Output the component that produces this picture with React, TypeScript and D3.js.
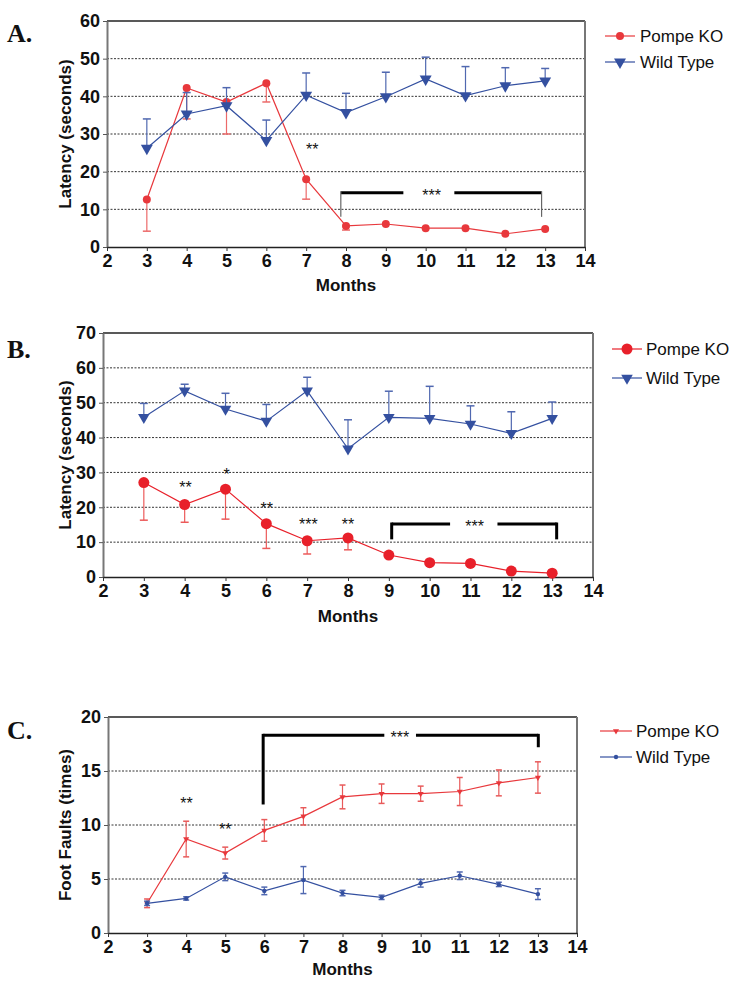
import * as d3 from 'd3';
import React, { useEffect, useRef } from 'react';

// months on the x axis
const months = [3, 4, 5, 6, 7, 8, 9, 10, 11, 12, 13];
const xTicks = [2, 3, 4, 5, 6, 7, 8, 9, 10, 11, 12, 13, 14];

// A. latency (seconds)
const koA = [12.6, 42.2, 38.5, 43.5, 18.0, 5.6, 6.1, 5.0, 5.0, 3.5, 4.8];
const koAErr = [8.4, 8.2, 8.5, 5.0, 5.3, 1.1, 0, 0, 0, 0, 0];
const wtA = [26.2, 35.3, 37.5, 28.3, 40.3, 35.7, 39.9, 44.6, 40.2, 42.8, 44.1];
const wtAErr = [7.8, 5.7, 4.8, 5.4, 5.9, 5.1, 6.5, 5.8, 7.7, 4.8, 3.3];

// B. latency (seconds)
const koB = [27.1, 20.8, 25.2, 15.3, 10.4, 11.2, 6.3, 4.1, 3.9, 1.7, 1.1];
const koBErr = [10.8, 5.1, 8.6, 7.1, 3.8, 3.4, 0, 0, 0, 0, 0];
const wtB = [45.8, 53.4, 48.2, 44.7, 53.4, 36.8, 45.8, 45.5, 43.9, 41.2, 45.5];
const wtBErr = [4.0, 1.9, 4.5, 4.8, 3.9, 8.3, 7.5, 9.2, 5.2, 6.2, 4.7];

// C. foot faults (times)
const koC = [2.75, 8.7, 7.4, 9.5, 10.8, 12.6, 12.9, 12.9, 13.1, 13.9, 14.4];
const koCErr = [0.4, 1.65, 0.55, 1.0, 0.8, 1.1, 0.9, 0.7, 1.3, 1.2, 1.45];
const wtC = [2.75, 3.2, 5.2, 3.9, 4.9, 3.7, 3.3, 4.6, 5.3, 4.5, 3.6];
const wtCErr = [0.2, 0.15, 0.35, 0.35, 1.25, 0.25, 0.2, 0.35, 0.35, 0.2, 0.5];

// significance marks: [month, value, label]
const starsA: [number, number, string][] = [[7.15, 26.6, '**']];
const starsB: [number, number, string][] = [
  [4.02, 26.4, '**'], [5.03, 30.2, '*'], [6.01, 20.4, '**'], [7.03, 15.9, '***'], [8.0, 15.9, '**']
];
const starsC: [number, number, string][] = [[4.01, 12.2, '**'], [5.0, 9.8, '**']];

const tickFont = "'Liberation Sans Narrow', 'Arial Narrow', sans-serif";
const labelFont = "'Liberation Sans', Arial, sans-serif";
const RED = '#e8383c';
const BLUE = '#3450a0';

const panels = [
  {
    letter: 'A.', letterY: 42, left: 107, right: 585, top: 21, bottom: 247, yMax: 60, yStep: 10,
    yLabel: 'Latency (seconds)', monthsY: 291,
    series: [
      { name: 'Pompe KO', values: koA, err: koAErr, dir: 'down', color: RED, errColor: '#ec6a6a', marker: 'circle', size: 4 },
      { name: 'Wild Type', values: wtA, err: wtAErr, dir: 'up', color: BLUE, errColor: '#5068b0', marker: 'triangle', size: 62 }
    ],
    bracket: { x0: 7.87, x1: 12.91, y: 14.4, drop0: 8, drop1: 8, gap0: 9.44, gap1: 10.72, textX: 10.15, thinDrops: true },
    stars: starsA,
    legend: { x0: 605, x1: 635, y: [36, 62], tx: 640 }
  },
  {
    letter: 'B.', letterY: 358, left: 103, right: 593, top: 333, bottom: 577, yMax: 70, yStep: 10,
    yLabel: 'Latency (seconds)', monthsY: 622,
    series: [
      { name: 'Pompe KO', values: koB, err: koBErr, dir: 'down', color: '#e8202a', errColor: '#ec5a5a', marker: 'circle', size: 5.5 },
      { name: 'Wild Type', values: wtB, err: wtBErr, dir: 'up', color: BLUE, errColor: '#5068b0', marker: 'triangle', size: 58 }
    ],
    bracket: { x0: 9.07, x1: 13.11, y: 15.2, drop0: 10.8, drop1: 10.8, gap0: 10.5, gap1: 11.66, textX: 11.1, thinDrops: false },
    stars: starsB,
    legend: { x0: 612, x1: 642, y: [349, 378], tx: 646 }
  },
  {
    letter: 'C.', letterY: 739, left: 108, right: 577, top: 717, bottom: 933, yMax: 20, yStep: 5,
    yLabel: 'Foot Faults (times)', monthsY: 975,
    series: [
      { name: 'Pompe KO', values: koC, err: koCErr, dir: 'both', color: RED, errColor: '#e85a5a', marker: 'triangle', size: 16 },
      { name: 'Wild Type', values: wtC, err: wtCErr, dir: 'both', color: BLUE, errColor: '#5068b0', marker: 'circle', size: 2.2 }
    ],
    bracket: { x0: 5.97, x1: 13.01, y: 18.3, drop0: 11.9, drop1: 17.2, gap0: 9.07, gap1: 9.88, textX: 9.47, thinDrops: false },
    stars: starsC,
    legend: { x0: 600, x1: 632, y: [731, 757], tx: 636 }
  }
];

function drawMarker(g: any, kind: string, size: number, cx: number, cy: number, color: string) {
  if (kind === 'circle') {
    g.append('circle').attr('cx', cx).attr('cy', cy).attr('r', size).attr('fill', color);
  } else {
    g.append('path')
      .attr('d', d3.symbol().type(d3.symbolTriangle).size(size)())
      .attr('transform', `translate(${cx},${cy}) rotate(180)`)
      .attr('fill', color);
  }
}

function drawPanel(svg: any, p: any) {
  const x = d3.scaleLinear().domain([2, 14]).range([p.left, p.right]);
  const y = d3.scaleLinear().domain([0, p.yMax]).range([p.bottom, p.top]);
  const g = svg.append('g');
  const yTicks = d3.range(0, p.yMax + 0.001, p.yStep);

  // dotted grid
  g.selectAll('.grid')
    .data(yTicks.filter((t: number) => t > 0 && t < p.yMax))
    .enter()
    .append('line')
    .attr('x1', p.left)
    .attr('x2', p.right)
    .attr('y1', (d: number) => y(d))
    .attr('y2', (d: number) => y(d))
    .attr('stroke', '#333')
    .attr('stroke-width', 1)
    .attr('stroke-dasharray', '2,1.5');

  // frame: top and right
  g.append('line').attr('x1', p.left).attr('x2', p.right).attr('y1', p.top).attr('y2', p.top)
    .attr('stroke', '#222').attr('stroke-width', 1.5);
  g.append('line').attr('x1', p.right).attr('x2', p.right).attr('y1', p.top).attr('y2', p.bottom)
    .attr('stroke', '#777').attr('stroke-width', 2);

  const yAxis = g.append('g')
    .attr('transform', `translate(${p.left},0)`)
    .call(d3.axisLeft(y).tickValues(yTicks).tickSize(4).tickPadding(3).tickSizeOuter(0));
  yAxis.select('.domain').attr('stroke', '#777').attr('stroke-width', 2);
  yAxis.selectAll('line').attr('stroke', '#555');
  yAxis.selectAll('text')
    .attr('font-family', tickFont).attr('font-size', 18).attr('font-weight', 'bold').attr('fill', '#111');

  const xAxis = g.append('g')
    .attr('transform', `translate(0,${p.bottom})`)
    .call(d3.axisBottom(x).tickValues(xTicks).tickSize(4).tickPadding(3).tickSizeOuter(0));
  xAxis.select('.domain').attr('stroke', '#222').attr('stroke-width', 1.5);
  xAxis.selectAll('line').attr('stroke', '#333');
  xAxis.selectAll('text')
    .attr('font-family', tickFont).attr('font-size', 18).attr('font-weight', 'bold').attr('fill', '#111');

  // series
  p.series.forEach((s: any) => {
    const pts = months.map((m, i) => ({ m, v: s.values[i], e: s.err[i] }));
    // error bars
    const cap = p.letter === 'C.' ? 3 : 4;
    pts.forEach((d) => {
      if (!d.e) return;
      const ends: number[] = [];
      if (s.dir === 'up' || s.dir === 'both') ends.push(d.v + d.e);
      if (s.dir === 'down' || s.dir === 'both') ends.push(d.v - d.e);
      ends.forEach((end) => {
        g.append('line').attr('x1', x(d.m)).attr('x2', x(d.m)).attr('y1', y(d.v)).attr('y2', y(end))
          .attr('stroke', s.errColor).attr('stroke-width', 1.2);
        g.append('line').attr('x1', x(d.m) - cap).attr('x2', x(d.m) + cap).attr('y1', y(end)).attr('y2', y(end))
          .attr('stroke', s.errColor).attr('stroke-width', 1.5);
      });
    });
    g.append('path')
      .datum(pts)
      .attr('fill', 'none')
      .attr('stroke', s.color)
      .attr('stroke-width', 1.2)
      .attr('d', d3.line<any>().x((d) => x(d.m)).y((d) => y(d.v)));
    pts.forEach((d) => drawMarker(g, s.marker, s.size, x(d.m), y(d.v), s.color));
  });

  // bracket
  const b = p.bracket;
  const by = y(b.y);
  [[b.x0, b.gap0], [b.gap1, b.x1]].forEach(([a, c]) => {
    g.append('line').attr('x1', x(a)).attr('x2', x(c)).attr('y1', by).attr('y2', by)
      .attr('stroke', '#000').attr('stroke-width', 3);
  });
  [[b.x0, b.drop0], [b.x1, b.drop1]].forEach(([bx, end]) => {
    g.append('line').attr('x1', x(bx)).attr('x2', x(bx)).attr('y1', by - 1.5).attr('y2', y(end))
      .attr('stroke', b.thinDrops ? '#666' : '#000').attr('stroke-width', b.thinDrops ? 1.2 : 3);
  });
  g.append('text').attr('x', x(b.textX)).attr('y', by + 8).attr('text-anchor', 'middle')
    .attr('font-family', labelFont).attr('font-size', 16).attr('fill', '#111').text('***');

  p.stars.forEach(([sx, sy, label]: [number, number, string]) => {
    g.append('text').attr('x', x(sx)).attr('y', y(sy) + 8).attr('text-anchor', 'middle')
      .attr('font-family', labelFont).attr('font-size', 16).attr('fill', '#111').text(label);
  });

  // labels
  g.append('text')
    .attr('transform', `translate(71,${(p.top + p.bottom) / 2}) rotate(-90)`)
    .attr('text-anchor', 'middle')
    .attr('font-family', labelFont).attr('font-size', 17).attr('font-weight', 'bold').attr('fill', '#111')
    .text(p.yLabel);
  g.append('text')
    .attr('x', (p.left + p.right) / 2).attr('y', p.monthsY).attr('text-anchor', 'middle')
    .attr('font-family', labelFont).attr('font-size', 17).attr('font-weight', 'bold').attr('fill', '#111')
    .text('Months');
  g.append('text')
    .attr('x', 7).attr('y', p.letterY)
    .attr('font-family', "'Liberation Serif', 'Times New Roman', serif").attr('font-size', 26)
    .attr('font-weight', 'bold').attr('fill', '#111')
    .text(p.letter);

  // legend
  const L = p.legend;
  p.series.forEach((s: any, i: number) => {
    const ly = L.y[i];
    g.append('line').attr('x1', L.x0).attr('x2', L.x1).attr('y1', ly).attr('y2', ly)
      .attr('stroke', s.color).attr('stroke-width', 1.2);
    drawMarker(g, s.marker, s.size, (L.x0 + L.x1) / 2, ly, s.color);
    g.append('text').attr('x', L.tx).attr('y', ly + 6)
      .attr('font-family', labelFont).attr('font-size', 17).attr('fill', '#111')
      .text(s.name);
  });
}

export default function App() {
  const ref = useRef<SVGSVGElement>(null);

  useEffect(() => {
    const svg = d3.select(ref.current);
    svg.selectAll('*').remove();
    svg.append('rect').attr('width', 729).attr('height', 987).attr('fill', '#fff');
    panels.forEach((p) => drawPanel(svg, p));
  }, []);

  return (
    <svg
      ref={ref}
      width={729}
      height={987}
      style={{ position: 'absolute', left: 0, top: 0, display: 'block' }}
    />
  );
}
